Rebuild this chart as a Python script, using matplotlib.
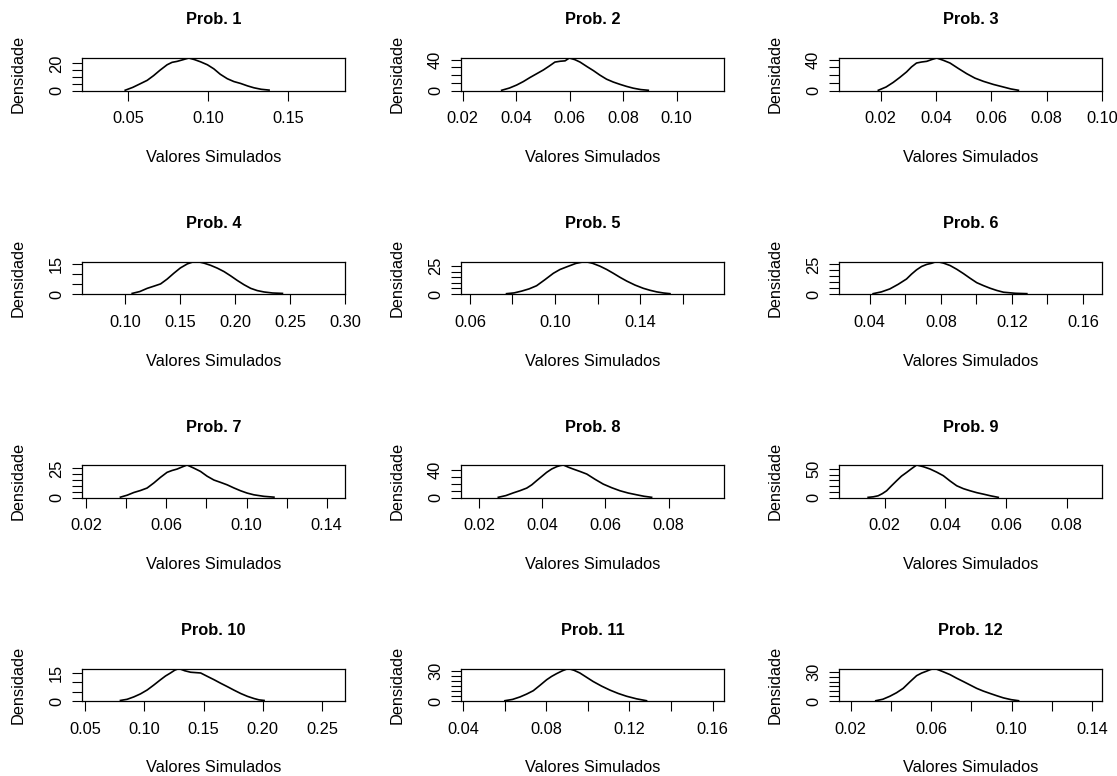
import matplotlib
matplotlib.use('Agg')
import matplotlib.pyplot as plt

plt.rcParams['font.family'] = ['Liberation Sans', 'DejaVu Sans']

# ---------------- data ----------------
titles = ["Prob. %d" % i for i in range(1, 13)]

xticks = [
    [0.05, 0.10, 0.15],
    [0.02, 0.04, 0.06, 0.08, 0.10],
    [0.02, 0.04, 0.06, 0.08, 0.10],
    [0.10, 0.15, 0.20, 0.25, 0.30],
    [0.06, 0.08, 0.10, 0.12, 0.14, 0.16],
    [0.04, 0.06, 0.08, 0.10, 0.12, 0.14, 0.16],
    [0.02, 0.04, 0.06, 0.08, 0.10, 0.12, 0.14],
    [0.02, 0.04, 0.06, 0.08],
    [0.02, 0.04, 0.06, 0.08],
    [0.05, 0.10, 0.15, 0.20, 0.25],
    [0.04, 0.06, 0.08, 0.10, 0.12, 0.14, 0.16],
    [0.02, 0.04, 0.06, 0.08, 0.10, 0.12, 0.14],
]
xlabel_stride = [1, 1, 1, 1, 2, 2, 2, 1, 1, 1, 2, 2]
xlims = [
    (0.0214, 0.1852), (0.0194, 0.1177), (0.0050, 0.1000),
    (0.0604, 0.3000), (0.0558, 0.1794), (0.0227, 0.1707),
    (0.0178, 0.1492), (0.0143, 0.0975), (0.0049, 0.0916),
    (0.0472, 0.2695), (0.0389, 0.1655), (0.0142, 0.1450),
]
ymax = [24.0, 42.2, 42.0, 16.1, 29.2, 27.5, 27.9, 47.3, 57.0, 17.4, 32.8, 33.5]
ystep = [5, 10, 10, 5, 5, 5, 5, 10, 10, 5, 5, 5]

dens_x1 = [0.0483, 0.0530, 0.0577, 0.0620, 0.0660, 0.0700, 0.0744, 0.0775, 0.0806, 0.0845, 0.0879, 0.0915, 0.0952, 0.0995, 0.1035, 0.1075, 0.1119, 0.1160, 0.1202, 0.1245, 0.1285, 0.1330, 0.1379]
dens_y1 = [0.2, 2.3, 5.0, 7.5, 11.0, 15.0, 19.0, 20.8, 21.5, 22.8, 24.0, 22.8, 21.2, 19.0, 16.0, 12.0, 8.7, 6.6, 5.2, 3.4, 2.0, 0.9, 0.3]
dens_x2 = [0.0346, 0.0375, 0.0402, 0.0427, 0.0452, 0.0477, 0.0502, 0.0525, 0.0545, 0.0565, 0.0583, 0.0599, 0.0620, 0.0639, 0.0665, 0.0689, 0.0713, 0.0738, 0.0763, 0.0788, 0.0813, 0.0838, 0.0866, 0.0894]
dens_y2 = [0.3, 3.2, 7.1, 11.6, 16.9, 21.8, 26.7, 32.0, 36.9, 38.0, 38.5, 42.2, 40.0, 36.9, 31.0, 25.8, 20.0, 14.7, 11.0, 8.0, 5.3, 3.0, 1.2, 0.3]
dens_x3 = [0.0192, 0.0220, 0.0246, 0.0270, 0.0294, 0.0312, 0.0330, 0.0348, 0.0367, 0.0385, 0.0403, 0.0427, 0.0451, 0.0481, 0.0511, 0.0541, 0.0572, 0.0608, 0.0644, 0.0671, 0.0698]
dens_y3 = [0.3, 4.5, 10.5, 17.0, 24.0, 30.5, 35.5, 36.8, 37.7, 40.0, 42.0, 39.0, 35.5, 28.5, 21.8, 16.0, 11.8, 7.8, 4.5, 2.0, 0.3]
dens_x4 = [0.1061, 0.1130, 0.1198, 0.1260, 0.1320, 0.1380, 0.1441, 0.1500, 0.1563, 0.1610, 0.1654, 0.1715, 0.1776, 0.1837, 0.1898, 0.1958, 0.2019, 0.2080, 0.2141, 0.2200, 0.2263, 0.2340, 0.2430]
dens_y4 = [0.3, 1.2, 2.8, 3.9, 5.0, 7.4, 10.3, 12.9, 14.9, 15.8, 16.1, 15.3, 14.2, 12.8, 11.1, 9.0, 6.7, 4.6, 2.8, 1.7, 1.0, 0.5, 0.3]
dens_x5 = [0.0772, 0.0808, 0.0843, 0.0878, 0.0913, 0.0952, 0.0992, 0.1023, 0.1055, 0.1098, 0.1141, 0.1176, 0.1211, 0.1243, 0.1274, 0.1305, 0.1337, 0.1376, 0.1415, 0.1447, 0.1478, 0.1510, 0.1540]
dens_y5 = [0.3, 1.0, 2.6, 4.6, 7.4, 12.8, 18.6, 22.0, 24.4, 27.5, 29.2, 27.6, 25.0, 22.0, 18.6, 15.0, 11.6, 8.0, 5.1, 3.3, 1.9, 0.9, 0.3]
dens_x6 = [0.0419, 0.0466, 0.0513, 0.0560, 0.0607, 0.0635, 0.0663, 0.0692, 0.0720, 0.0748, 0.0776, 0.0814, 0.0852, 0.0890, 0.0927, 0.0965, 0.1002, 0.1040, 0.1077, 0.1115, 0.1153, 0.1220, 0.1284]
dens_y6 = [0.3, 1.8, 4.3, 8.2, 12.7, 16.8, 20.4, 23.3, 25.0, 26.0, 27.5, 26.2, 24.1, 20.9, 17.3, 13.3, 9.6, 7.1, 4.9, 3.0, 1.5, 0.6, 0.3]
dens_x7 = [0.0370, 0.0404, 0.0437, 0.0470, 0.0503, 0.0537, 0.0570, 0.0603, 0.0628, 0.0653, 0.0678, 0.0703, 0.0737, 0.0770, 0.0803, 0.0837, 0.0870, 0.0903, 0.0937, 0.0970, 0.1003, 0.1037, 0.1087, 0.1137]
dens_y7 = [0.3, 2.0, 4.3, 6.0, 8.1, 12.5, 17.3, 21.6, 23.2, 24.4, 26.2, 27.9, 25.2, 22.4, 18.3, 15.0, 13.0, 10.9, 8.2, 5.8, 3.8, 2.3, 1.0, 0.3]
dens_x8 = [0.0261, 0.0285, 0.0309, 0.0330, 0.0351, 0.0367, 0.0382, 0.0398, 0.0414, 0.0430, 0.0446, 0.0457, 0.0467, 0.0483, 0.0498, 0.0520, 0.0541, 0.0567, 0.0593, 0.0620, 0.0646, 0.0672, 0.0699, 0.0722, 0.0746]
dens_y8 = [0.3, 2.8, 6.8, 10.0, 13.7, 18.5, 24.4, 30.5, 36.6, 41.5, 44.9, 46.5, 47.3, 44.0, 41.4, 37.8, 34.1, 26.5, 19.5, 14.2, 9.8, 6.5, 3.9, 1.8, 0.3]
dens_x9 = [0.0145, 0.0162, 0.0178, 0.0192, 0.0206, 0.0222, 0.0239, 0.0255, 0.0272, 0.0288, 0.0305, 0.0327, 0.0349, 0.0371, 0.0393, 0.0415, 0.0437, 0.0459, 0.0481, 0.0503, 0.0525, 0.0550, 0.0574]
dens_y9 = [0.3, 1.2, 3.0, 6.8, 11.8, 20.5, 29.4, 37.5, 44.0, 50.5, 57.0, 54.0, 50.0, 44.5, 38.2, 29.0, 20.6, 15.5, 11.8, 8.5, 5.9, 2.8, 0.3]
dens_x10 = [0.0797, 0.0853, 0.0910, 0.0966, 0.1023, 0.1080, 0.1136, 0.1178, 0.1220, 0.1256, 0.1291, 0.1340, 0.1390, 0.1432, 0.1475, 0.1531, 0.1588, 0.1644, 0.1700, 0.1757, 0.1814, 0.1870, 0.1927, 0.1969, 0.2011]
dens_y10 = [0.3, 0.9, 2.2, 3.8, 5.9, 8.6, 11.4, 13.4, 15.0, 16.5, 17.4, 16.2, 15.4, 15.2, 15.0, 13.2, 11.4, 9.5, 7.7, 5.8, 4.0, 2.5, 1.3, 0.6, 0.3]
dens_x11 = [0.0600, 0.0637, 0.0673, 0.0705, 0.0737, 0.0769, 0.0801, 0.0825, 0.0849, 0.0877, 0.0905, 0.0933, 0.0961, 0.0993, 0.1025, 0.1066, 0.1106, 0.1146, 0.1186, 0.1234, 0.1282]
dens_y11 = [0.3, 1.6, 4.1, 7.0, 10.4, 15.8, 21.4, 24.8, 27.6, 30.5, 32.8, 31.0, 28.3, 24.0, 19.7, 15.0, 11.0, 7.6, 4.8, 2.2, 0.3]
dens_x12 = [0.0325, 0.0360, 0.0395, 0.0428, 0.0461, 0.0495, 0.0528, 0.0553, 0.0577, 0.0598, 0.0619, 0.0656, 0.0694, 0.0727, 0.0760, 0.0794, 0.0827, 0.0860, 0.0893, 0.0927, 0.0960, 0.0998, 0.1035]
dens_y12 = [0.3, 1.8, 4.9, 8.5, 13.0, 19.8, 26.1, 28.8, 30.7, 32.5, 33.5, 30.5, 27.2, 23.5, 20.1, 16.5, 13.0, 10.2, 7.8, 5.4, 3.2, 1.4, 0.3]

dens_x = [dens_x1, dens_x2, dens_x3, dens_x4, dens_x5, dens_x6,
          dens_x7, dens_x8, dens_x9, dens_x10, dens_x11, dens_x12]
dens_y = [dens_y1, dens_y2, dens_y3, dens_y4, dens_y5, dens_y6,
          dens_y7, dens_y8, dens_y9, dens_y10, dens_y11, dens_y12]

# ---------------- layout ----------------
W, H = 1117, 776
fig = plt.figure(figsize=(W / 100, H / 100), dpi=100)
col_left = [82, 461, 839]
box_w = 263
row_top = [58, 261.5, 465, 668.5]
box_h = 32.5

FS = 11.8
for i in range(12):
    r, c = divmod(i, 3)
    left, top = col_left[c], row_top[r]
    ax = fig.add_axes([left / W, 1 - (top + box_h) / H, box_w / W, box_h / H])
    ax.plot(dens_x[i], dens_y[i], color='black', lw=1.2, solid_joinstyle='round')
    ax.set_xlim(*xlims[i])
    ax.set_ylim(0, ymax[i])
    ax.set_xticks(xticks[i])
    ax.set_xticklabels(["%.2f" % v if k % xlabel_stride[i] == 0 else ""
                        for k, v in enumerate(xticks[i])])
    yt = list(range(0, int(ymax[i]) + 1, ystep[i]))
    ax.set_yticks(yt)
    ax.set_yticklabels([str(v) if k in (0, len(yt) - 1) else "" for k, v in enumerate(yt)],
                       rotation=90, va='center')
    ax.tick_params(axis='both', direction='out', length=7, width=0.8,
                   labelsize=FS, colors='black')
    ax.tick_params(axis='x', pad=8)
    ax.tick_params(axis='y', pad=6)
    for s in ax.spines.values():
        s.set_linewidth(0.9)
    cx = left + box_w / 2
    fig.text(cx / W, 1 - (top - 38) / H, titles[i], ha='center', va='center',
             fontsize=11.8, fontweight='bold')
    fig.text(cx / W, 1 - (top + box_h + 67) / H, "Valores Simulados",
             ha='center', va='center', fontsize=FS)
    fig.text((left - 64) / W, 1 - (top + box_h / 2) / H, "Densidade",
             ha='center', va='center', rotation=90, fontsize=FS)

fig.savefig("out.png", dpi=100)
